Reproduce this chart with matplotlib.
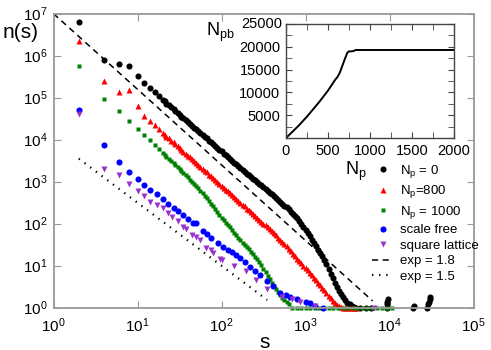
import numpy as np
import matplotlib
matplotlib.use('Agg')
import matplotlib.pyplot as plt
from matplotlib.ticker import MultipleLocator, NullLocator

plt.rcParams['font.family'] = ['Liberation Sans', 'DejaVu Sans']
plt.rcParams['mathtext.default'] = 'regular'

# cluster sizes where the curves are dense (shared by the three N_p series)
s_dense = [20, 21, 22, 24, 25, 27, 28, 30, 32, 33, 35, 38, 40, 42, 45, 47, 50, 53, 56, 60,
           63, 67, 71, 75, 79, 84, 89, 94, 100, 106, 112, 119, 126, 133, 141, 150, 158, 168,
           178, 188, 200, 211, 224, 237, 251, 266, 282, 299, 316, 335, 355, 376, 398, 422,
           447, 473, 501, 531, 562, 596, 631, 668, 708, 750, 794, 841, 891, 944, 1000, 1059,
           1122, 1189, 1259, 1334, 1413, 1496, 1585, 1679, 1778, 1884, 1995, 2113, 2239, 2371,
           2512, 2661, 2818, 2985, 3162, 3350, 3548, 3758, 3981]

# N_p = 0
s_np0_small = [2, 4, 6, 8, 10, 12, 14, 16, 18]
n_np0_small = [6.5e6, 8.1e5, 6.5e5, 5.75e5, 3.2e5, 2.2e5, 1.7e5, 1.38e5, 1.1e5]
lg_n_np0_dense = [4.95, 4.91, 4.86, 4.82, 4.77, 4.73, 4.69, 4.64, 4.60, 4.55, 4.51, 4.47,
                  4.42, 4.38, 4.33, 4.29, 4.25, 4.20, 4.16, 4.11, 4.07, 4.03, 3.98, 3.94,
                  3.89, 3.85, 3.81, 3.76, 3.72, 3.67, 3.63, 3.59, 3.54, 3.50, 3.45, 3.41,
                  3.37, 3.32, 3.28, 3.23, 3.19, 3.15, 3.11, 3.07, 3.03, 2.99, 2.95, 2.91,
                  2.87, 2.83, 2.78, 2.74, 2.70, 2.65, 2.61, 2.57, 2.52, 2.48, 2.43, 2.39,
                  2.34, 2.29, 2.24, 2.19, 2.13, 2.07, 2.00, 1.93, 1.85, 1.78, 1.70, 1.62,
                  1.54, 1.46, 1.38, 1.30, 1.22, 1.13, 1.03, 0.92, 0.80, 0.70, 0.60, 0.50,
                  0.40, 0.32, 0.25, 0.18, 0.12, 0.08, 0.05, 0.02, 0.00]
s_np0_tail = [4500, 5200, 6000, 9300, 9400, 9400, 9500, 19000, 19500,
              28000, 29000, 29500, 30000, 30000]
n_np0_tail = [1.0, 1.0, 1.0, 1.0, 1.2, 1.4, 1.6, 1.0, 1.1, 1.0, 1.2, 1.4, 1.6, 1.75]

# N_p = 800
s_np800_small = [2, 4, 6, 8, 10, 12, 14, 16, 18]
n_np800_small = [2.3e6, 2.5e5, 1.38e5, 1.5e5, 6.5e4, 3.6e4, 2.8e4, 2.2e4, 1.8e4]
lg_n_np800_dense = [4.16, 4.12, 4.07, 4.03, 3.98, 3.94, 3.89, 3.85, 3.80, 3.76, 3.71, 3.67,
                    3.62, 3.58, 3.53, 3.49, 3.44, 3.40, 3.35, 3.31, 3.26, 3.22, 3.17, 3.13,
                    3.08, 3.04, 2.99, 2.95, 2.90, 2.86, 2.81, 2.77, 2.72, 2.68, 2.63, 2.59,
                    2.54, 2.50, 2.45, 2.41, 2.36, 2.32, 2.27, 2.23, 2.18, 2.14, 2.09, 2.05,
                    2.00, 1.96, 1.91, 1.87, 1.82, 1.77, 1.72, 1.67, 1.62, 1.57, 1.51, 1.46,
                    1.40, 1.35, 1.29, 1.23, 1.17, 1.12, 1.06, 1.00, 0.94, 0.89, 0.83, 0.77,
                    0.71, 0.65, 0.59, 0.53, 0.47, 0.41, 0.35, 0.29, 0.22, 0.16, 0.11, 0.07,
                    0.04, 0.02, 0.00, 0.00, 0.00, 0.00, 0.00, 0.00, 0.00]

# N_p = 1000
s_np1000_small = [2, 4, 6, 8, 10, 12, 14, 16, 18]
n_np1000_small = [5.75e5, 9.1e4, 4.9e4, 2.8e4, 1.8e4, 1.29e4, 9800, 7400, 5900]
lg_n_np1000_dense = [3.68, 3.63, 3.58, 3.54, 3.49, 3.44, 3.39, 3.35, 3.30, 3.25, 3.20, 3.15,
                     3.10, 3.05, 2.99, 2.94, 2.89, 2.84, 2.78, 2.73, 2.67, 2.61, 2.54, 2.48,
                     2.41, 2.34, 2.27, 2.21, 2.14, 2.08, 2.02, 1.97, 1.91, 1.85, 1.79, 1.73,
                     1.67, 1.61, 1.55, 1.50, 1.44, 1.39, 1.33, 1.27, 1.21, 1.15, 1.08, 1.01,
                     0.93, 0.85, 0.76, 0.68, 0.60, 0.52, 0.45, 0.37, 0.30, 0.24, 0.18, 0.13,
                     0.08]
s_np1000_tail = [700, 790, 880, 1000, 1130, 1280, 1450, 1650, 1900, 2150, 2450, 2800, 3200,
                 3650, 4150, 4750, 5400, 6200, 7100, 8100, 9300, 10700]
n_np1000_tail = [1, 1, 1, 1, 1, 1, 1, 1, 1, 1, 1, 1, 1, 1, 1, 1, 1, 1, 1, 1, 1, 1]

# scale free network
s_sf = [2, 4, 6, 8, 10, 12, 14, 17, 20, 23, 27, 30, 35, 40, 46, 50, 60, 68, 76, 90,
        105, 118, 132, 150, 166, 190, 219, 250, 288, 347, 410, 501, 580, 661, 800, 1000,
        1122, 1300, 1622]
n_sf = [51000, 7400, 3000, 1700, 1170, 850, 630, 510, 380, 295, 240, 204, 158, 126, 105,
        102, 68, 56, 45, 35, 27.5, 24, 21.4, 17.8, 15.1, 12.0, 9.5, 7.6, 6.0, 4.4, 3.2, 2.2,
        2.0, 1.8, 1.6, 1.4, 1.26, 1.12, 1.0]

# square lattice
s_sq = [2, 4, 6, 8, 10, 12, 14, 17, 20, 23, 26, 30, 35, 38, 44, 50, 55, 66, 74, 80,
        95, 102, 140, 195, 260, 347, 525, 700, 851, 1288, 6600]
n_sq = [41000, 2000, 1450, 870, 590, 460, 330, 280, 234, 182, 148, 117, 85, 76, 54, 48,
        40, 25.7, 23.4, 20, 14.1, 13.5, 10, 7.6, 4.5, 2.75, 1.8, 1.6, 1.4, 1.1, 1.0]

# reference power laws
s_exp18 = [1, 6300]
s_exp15 = [2, 350]

# inset: N_pb vs N_p
inset_np = [0, 50, 100, 150, 200, 250, 300, 350, 400, 450, 500, 550, 590, 610, 640, 670,
            700, 730, 750, 780, 800, 830, 2000]
inset_npb = [0, 900, 1800, 2700, 3700, 4700, 5800, 6900, 8000, 9200, 10400, 11800, 12900,
             13300, 14300, 15800, 17300, 18700, 19000, 19000, 19050, 19300, 19300]
inset_yticks = [0, 5000, 10000, 15000, 20000, 25000]
inset_ylabels = ['', '5000', '10000', '15000', '20000', '']
inset_top_label = '25000'

s_np0 = s_np0_small + s_dense + s_np0_tail
n_np0 = n_np0_small + [10**v for v in lg_n_np0_dense] + n_np0_tail
s_np800 = s_np800_small + s_dense
n_np800 = n_np800_small + [10**v for v in lg_n_np800_dense]
s_np1000 = s_np1000_small + s_dense[:len(lg_n_np1000_dense)] + s_np1000_tail
n_np1000 = n_np1000_small + [10**v for v in lg_n_np1000_dense] + n_np1000_tail

fig = plt.figure(figsize=(4.91, 3.5), dpi=100)
ax = fig.add_axes([53.5/491, 1 - 307.7/350, 420/491, 294/350])

ax.plot(s_np0, n_np0, 'o', color='black', ms=4.4, mec='none', clip_on=False, label='N$_p$ = 0')
ax.plot(s_np800, n_np800, '^', color='red', ms=4.8, mec='none', clip_on=False, label='N$_p$=800')
ax.plot(s_np1000, n_np1000, 's', color='#008000', ms=3.5, mec='none', clip_on=False,
        label='N$_p$ = 1000')
ax.plot(s_sf, n_sf, 'o', color='blue', ms=4.4, mec='none', clip_on=False, label='scale free')
ax.plot(s_sq, n_sq, 'v', color='#9932cc', ms=4.3, mec='none', clip_on=False, label='square lattice')

s18 = np.array(s_exp18, dtype=float)
ax.plot(s18, 1e7 * s18**-1.8, color='black', lw=1.1, dashes=(4, 3), label='exp = 1.8')
s15 = np.array(s_exp15, dtype=float)
ax.plot(s15, 1e4 * s15**-1.5, color='black', lw=1.6, dashes=(0.6, 2.6), label='exp = 1.5')

ax.set_xscale('log')
ax.set_yscale('log')
ax.set_xlim(1, 1e5)
ax.set_ylim(1, 1e7)
ax.xaxis.set_minor_locator(NullLocator())
ax.yaxis.set_minor_locator(NullLocator())
ax.set_xticks([10**i for i in range(6)])
ax.set_yticks([10**i for i in range(8)])
for sp in ax.spines.values():
    sp.set_color('#999999')
    sp.set_linewidth(1.3)
ax.tick_params(which='both', direction='in', top=True, right=True, length=5,
               color='#999999', labelsize=11, pad=6)
ax.tick_params(axis='y', pad=4)

fig.text(3/491, 1 - 33/350, 'n(s)', fontsize=15, va='center', ha='left')
fig.text(265/491, 1 - 342/350, 's', fontsize=15, va='center', ha='center')

ax.legend(loc='upper left', bbox_to_anchor=(372/491, 1 - 163/350),
          bbox_transform=fig.transFigure, frameon=False, fontsize=9.5,
          borderpad=0, handlelength=1.6, handletextpad=0.5, labelspacing=0.25,
          borderaxespad=0)

# inset
ax2 = fig.add_axes([286/491, 1 - 138/350, 168/491, 114/350])
ax2.plot(inset_np, inset_npb, color='black', lw=1.4)
ax2.set_xlim(0, 2000)
ax2.xaxis.set_major_locator(MultipleLocator(500))
ax2.xaxis.set_minor_locator(MultipleLocator(250))
ax2.set_yticks(inset_yticks, inset_ylabels)
ax2.set_ylim(0, 25000)
ax2.yaxis.set_minor_locator(MultipleLocator(2500))
for sp in ax2.spines.values():
    sp.set_color('#444444')
    sp.set_linewidth(1.0)
ax2.tick_params(which='both', direction='in', top=True, right=True, length=4,
                color='#444444', labelsize=10.5, pad=4)
# top y label of the inset, drawn last so it sits above everything
fig.text(282/491, 1 - 24/350, inset_top_label, fontsize=10.5, ha='right', va='center',
         zorder=10)
fig.text(206/491, 1 - 36/350, 'N$_{pb}$', fontsize=13, va='baseline', ha='left')
fig.text(345/491, 1 - 175/350, 'N$_p$', fontsize=13, va='baseline', ha='left')

fig.savefig('out.png', dpi=100)
